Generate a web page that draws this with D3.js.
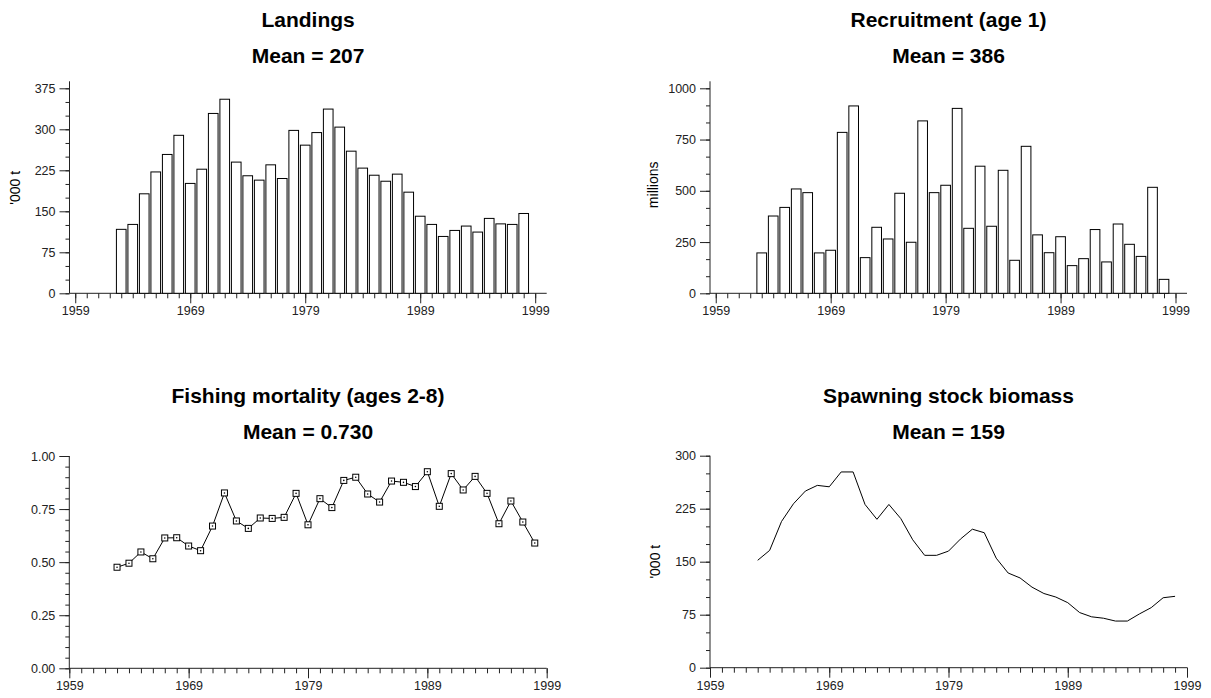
<!DOCTYPE html>
<html>
<head>
<meta charset="utf-8">
<script src="https://cdn.jsdelivr.net/npm/d3@7"></script>
<style>
  html, body { margin: 0; padding: 0; background: #fff; }
  svg { display: block; }
  text { font-family: "Liberation Sans", Arial, Helvetica, sans-serif; }
</style>
</head>
<body>
<div id="chart"></div>
<script>
// ---------- data ----------
const years = [1963,1964,1965,1966,1967,1968,1969,1970,1971,1972,1973,1974,1975,1976,1977,1978,1979,1980,
               1981,1982,1983,1984,1985,1986,1987,1988,1989,1990,1991,1992,1993,1994,1995,1996,1997,1998];
const landings = [117,126,182,222,254,289,201,227,329,355,240,215,207,235,210,298,271,294,
                  337,304,260,229,216,205,218,185,141,126,104,115,123,112,137,127,126,146];
const recruitment = [197,377,419,509,491,197,210,785,914,174,322,265,488,249,841,491,527,902,
                     317,620,327,600,161,717,285,198,276,135,169,311,153,338,239,180,517,68];
const fishingMortality = [0.476,0.495,0.548,0.516,0.614,0.615,0.576,0.554,0.670,0.826,0.694,0.659,0.708,0.706,0.711,0.824,0.676,0.799,
                          0.757,0.885,0.900,0.821,0.783,0.882,0.876,0.856,0.926,0.763,0.917,0.840,0.904,0.824,0.681,0.788,0.689,0.590];
const ssb = [152,166,207,232,250,258,256,277,277,231,210,231,211,181,159,159,165,182,
             196,191,155,134,127,114,105,100,92,78,72,70,66,66,76,85,99,101];

const xTickLabels = [1959,1969,1979,1989,1999];
const yTicksLandings = [0,75,150,225,300,375];
const yTicksRecruit = [0,250,500,750,1000];
const yTicksF = [0,0.25,0.5,0.75,1.0];
const yTicksSSB = [0,75,150,225,300];

const titles = ["Landings","Recruitment (age 1)","Fishing mortality (ages 2-8)","Spawning stock biomass"];
const meanLabels = ["Mean = 207","Mean = 386","Mean = 0.730","Mean = 159"];
const yLabels = ["'000 t","millions","","'000 t"];

// ---------- layout ----------
const W = 1211, H = 698;
const svg = d3.select("#chart").append("svg").attr("width", W).attr("height", H);

const panels = [
  {type:"bar",  values:landings,    yTicks:yTicksLandings, yMax:375,  minor:25,   fmt:d=>d,
   left:69.5, right:546.7, top:88.3, bottom:293.3, xDomain:[1958.5,2000], ext:7, titleY:26.7, meanY:63.3, ylx:20},
  {type:"bar",  values:recruitment, yTicks:yTicksRecruit,  yMax:1000, minor:83.3333, fmt:d=>d,
   left:710, right:1187, top:88.3, bottom:293.3, xDomain:[1958.5,2000], ext:7, titleY:26.7, meanY:63.3, ylx:658},
  {type:"pts",  values:fishingMortality, yTicks:yTicksF, yMax:1,    minor:0.05, fmt:d3.format(".2f"),
   left:69.3, right:546.7, top:456, bottom:668.3, xDomain:[1959,1999], ext:0, titleY:402.5, meanY:439, ylx:20},
  {type:"line", values:ssb,         yTicks:yTicksSSB,      yMax:300,  minor:25,   fmt:d=>d,
   left:710, right:1187, top:455.7, bottom:667.7, xDomain:[1959,1999], ext:0, titleY:402.5, meanY:439, ylx:660}
];

const axisColor = "#222";

panels.forEach((p, i) => {
  const g = svg.append("g");
  const x = d3.scaleLinear().domain(p.xDomain).range([p.left, p.right]);
  const y = d3.scaleLinear().domain([0, p.yMax]).range([p.bottom, p.top]);
  const cx = (p.left + p.right) / 2;

  // titles
  g.append("text").attr("x", cx).attr("y", p.titleY).attr("text-anchor","middle")
    .attr("font-size", 21).attr("font-weight","bold").attr("fill","#000").text(titles[i]);
  g.append("text").attr("x", cx).attr("y", p.meanY).attr("text-anchor","middle")
    .attr("font-size", 21).attr("font-weight","bold").attr("fill","#000").text(meanLabels[i]);

  // y label
  if (yLabels[i]) {
    const yc = (p.top + p.bottom) / 2 - (i === 1 ? 6 : (i === 0 ? 3 : 0));
    g.append("text").attr("transform", `translate(${p.ylx},${yc}) rotate(-90)`)
      .attr("text-anchor","middle").attr("font-size", 14).attr("fill","#000").text(yLabels[i]);
  }

  // x minor ticks (every year)
  const minorYears = d3.range(1959, 2000, 1);
  const gxMinor = g.append("g").attr("transform", `translate(0,${p.bottom})`)
    .call(d3.axisBottom(x).tickValues(minorYears).tickSize(5).tickFormat(""));
  gxMinor.select(".domain").remove();
  const gxMajor = g.append("g").attr("transform", `translate(0,${p.bottom})`)
    .call(d3.axisBottom(x).tickValues(xTickLabels).tickSize(10).tickPadding(3).tickFormat(d3.format("d")));
  gxMajor.select(".domain").remove();
  gxMajor.selectAll("text").attr("font-size", 12.5).attr("fill", axisColor)
    .attr("font-family", "'Liberation Sans', Arial, sans-serif");

  // y minor ticks
  const minorVals = d3.range(0, p.yMax + 1e-9, p.minor);
  const gyMinor = g.append("g").attr("transform", `translate(${p.left},0)`)
    .call(d3.axisLeft(y).tickValues(minorVals).tickSize(4).tickFormat(""));
  gyMinor.select(".domain").remove();
  const gyMajor = g.append("g").attr("transform", `translate(${p.left},0)`)
    .call(d3.axisLeft(y).tickValues(p.yTicks).tickSize(10).tickPadding(4).tickFormat(p.fmt));
  gyMajor.select(".domain").remove();
  gyMajor.selectAll("text").attr("font-size", 12.5).attr("fill", axisColor)
    .attr("font-family", "'Liberation Sans', Arial, sans-serif");

  g.selectAll(".tick line").attr("stroke", axisColor);

  // axis lines
  g.append("line").attr("x1", p.left).attr("x2", p.right).attr("y1", p.bottom).attr("y2", p.bottom)
    .attr("stroke", axisColor).attr("stroke-width", 1);
  g.append("line").attr("x1", p.left).attr("x2", p.left).attr("y1", p.bottom).attr("y2", p.top - p.ext)
    .attr("stroke", axisColor).attr("stroke-width", 1);

  const data = years.map((yr, k) => ({yr, v: p.values[k]}));
  const step = x(1960) - x(1959);

  if (p.type === "bar") {
    const bw = step * 0.84;
    g.append("g").selectAll("rect").data(data).join("rect")
      .attr("x", d => x(d.yr) - bw / 2)
      .attr("y", d => y(d.v))
      .attr("width", bw)
      .attr("height", d => y(0) - y(d.v))
      .attr("fill", "#fff").attr("stroke", "#000").attr("stroke-width", 1);
  } else {
    const line = d3.line().x(d => x(d.yr)).y(d => y(d.v));
    g.append("path").datum(data).attr("d", line).attr("fill","none")
      .attr("stroke","#000").attr("stroke-width", 1);
    if (p.type === "pts") {
      const s = 6;
      g.append("g").selectAll("rect").data(data).join("rect")
        .attr("x", d => x(d.yr) - s / 2).attr("y", d => y(d.v) - s / 2)
        .attr("width", s).attr("height", s)
        .attr("fill", "#fff").attr("stroke", "#000").attr("stroke-width", 1);
      g.append("g").selectAll("circle").data(data).join("circle")
        .attr("cx", d => x(d.yr)).attr("cy", d => y(d.v)).attr("r", 0.8).attr("fill", "#000");
    }
  }
});
</script>
</body>
</html>
